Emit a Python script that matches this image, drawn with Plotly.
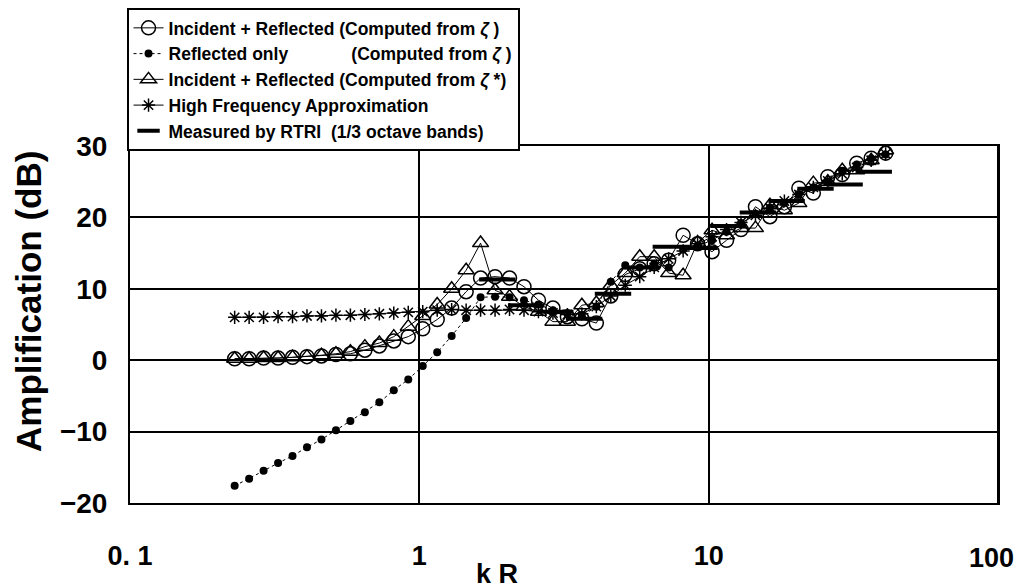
import numpy as np
import plotly.graph_objects as go

# kR sample points (log spaced, 1/20 decade)
kr = [0.23 * 10 ** (0.05 * i) for i in range(46)]

inc_ref_xi = [0.2, 0.2, 0.3, 0.3, 0.4, 0.5, 0.6, 0.8, 0.9, 1.4,
              2.0, 2.7, 3.3, 4.4, 5.7, 7.3, 9.6, 11.5, 11.7, 11.5,
              10.3, 8.4, 7.3, 6.1, 5.8, 5.2, 9.0, 12.0, 12.8, 13.5,
              14.0, 17.5, 16.3, 15.2, 16.8, 18.3, 21.5, 20.1, 21.5, 24.1,
              23.4, 25.7, 26.0, 27.6, 28.3, 29.0]

refl_only = [-17.6, -16.6, -15.5, -14.4, -13.4, -12.2, -11.1, -9.8, -8.5, -7.3,
             -5.9, -4.2, -2.7, -0.8, 1.1, 3.4, 5.9, 8.8, 8.9, 8.8,
             8.4, 7.8, 7.0, 6.5, 6.2, 7.5, 11.0, 13.3, 13.0, 13.5,
             13.0, 15.5, 16.0, 16.8, 18.0, 19.2, 20.5, 21.4, 22.0, 23.2,
             24.2, 25.0, 26.5, 27.4, 28.2, 28.8]

inc_ref_xistar = [0.2, 0.2, 0.3, 0.3, 0.4, 0.5, 0.7, 0.9, 1.2, 1.9,
                  2.4, 3.3, 4.7, 6.2, 7.8, 10.0, 12.6, 16.4, 9.8, 8.9,
                  7.5, 6.8, 5.4, 5.4, 7.7, 8.0, 10.5, 12.2, 14.5, 14.5,
                  12.2, 11.9, 16.5, 18.2, 17.5, 18.5, 18.5, 21.7, 21.0, 22.0,
                  24.8, 25.0, 26.6, 26.6, 28.0, 29.4]

hf_approx = [6.0, 6.0, 6.0, 6.1, 6.1, 6.2, 6.2, 6.3, 6.3, 6.4,
             6.5, 6.6, 6.7, 6.8, 7.0, 7.1, 7.0, 7.0, 7.0, 7.1,
             7.0, 6.8, 6.6, 6.4, 6.5, 7.5, 9.0, 10.5, 11.7, 13.0,
             14.2, 15.3, 16.3, 17.3, 18.3, 19.3, 20.3, 21.3, 22.3, 23.2,
             24.2, 25.1, 26.1, 27.0, 28.0, 28.9]

# measured 1/3 octave band centres and levels
band_kr = [1.86, 2.34, 2.95, 3.71, 4.67, 5.88, 7.4, 9.3, 11.7, 14.8, 18.6, 23.4, 29.5, 37.2]
band_db = [11.3, 7.7, 6.8, 5.8, 9.3, 13.0, 15.9, 15.7, 18.8, 20.7, 22.3, 24.0, 24.6, 26.4]

x_tickvals = [0.1, 1, 10, 100]
x_ticklabels = ["0. 1", "1", "10", "100"]
y_tickvals = [-20, -10, 0, 10, 20, 30]
y_ticklabels = ["−20", "−10", "0", "10", "20", "30"]

FONT = "Liberation Sans Narrow, Liberation Sans, Arial, sans-serif"
LFONT = "Liberation Sans, Arial, sans-serif"
NB = "\u00a0"

def b(s):
    return "<b>" + s + "</b>"

names = [
    b("Incident + Reflected (Computed from <i>ζ</i> )"),
    b("Reflected only" + NB * 13 + "(Computed from <i>ζ</i> )"),
    b("Incident + Reflected (Computed from <i>ζ</i> *)"),
    b("High Frequency Approximation"),
    b("Measured by RTRI" + NB * 2 + "(1/3 octave bands)"),
]

fig = go.Figure()
fig.add_trace(go.Scatter(
    x=kr, y=inc_ref_xi, name=names[0], mode="lines+markers",
    line=dict(color="black", width=1),
    marker=dict(symbol="circle-open", size=14, color="black", line=dict(width=1.5))))
fig.add_trace(go.Scatter(
    x=kr, y=refl_only, name=names[1], mode="lines+markers",
    line=dict(color="black", width=1, dash="dot"),
    marker=dict(symbol="circle", size=8, color="black")))
fig.add_trace(go.Scatter(
    x=kr, y=inc_ref_xistar, name=names[2], mode="lines+markers",
    line=dict(color="black", width=1),
    marker=dict(symbol="triangle-up-open", size=14, color="black", line=dict(width=1.5))))
fig.add_trace(go.Scatter(
    x=kr, y=hf_approx, name=names[3], mode="lines+markers",
    line=dict(color="black", width=1),
    marker=dict(symbol="asterisk-open", size=11, color="black", line=dict(width=1.5, color="black"))))
fig.add_trace(go.Scatter(
    x=band_kr, y=band_db, name=names[4], mode="markers",
    marker=dict(symbol="line-ew-open", size=26, color="black", line=dict(width=4, color="black"))))

# page body adds an 8px margin, so the figure is sized/placed to compensate
fig.update_layout(
    width=1015, height=580,
    margin=dict(l=122, r=25, t=138, b=85, autoexpand=False),
    paper_bgcolor="white", plot_bgcolor="white",
    font=dict(family=FONT, color="black"),
    showlegend=True,
    legend=dict(
        x=-0.004, y=1.3866, xanchor="left", yanchor="top",
        bordercolor="black", borderwidth=2, bgcolor="white",
        font=dict(family=LFONT, size=17.5, color="black"),
        tracegroupgap=0, itemwidth=30,
    ),
)
# the last x label sits at the right edge: draw it as an annotation so it is not culled
fig.update_xaxes(
    type="log", range=[-1, 2], automargin=False,
    tickvals=x_tickvals[:-1], ticktext=[b(t) for t in x_ticklabels[:-1]],
    tickfont=dict(family=FONT, size=27, color="black"),
    showgrid=True, gridcolor="black", gridwidth=1.5,
    showline=True, linecolor="black", linewidth=2, mirror=True,
    ticks="", ticklabelstandoff=28, zeroline=False,
)
fig.add_vline(x=x_tickvals[-1], line=dict(color="black", width=2))
fig.add_annotation(
    text=b(x_ticklabels[-1]), xref="x", yref="paper",
    x=np.log10(x_tickvals[-1]), y=-0.155, xanchor="center", yanchor="middle",
    xshift=-7, showarrow=False,
    font=dict(family=FONT, size=27, color="black"))
fig.update_yaxes(
    range=[-20, 30], tickvals=y_tickvals, automargin=False,
    ticktext=[b(t) for t in y_ticklabels],
    tickfont=dict(family=FONT, size=28, color="black"),
    showgrid=True, gridcolor="black", gridwidth=1.5,
    showline=True, linecolor="black", linewidth=2, mirror=True,
    ticks="", ticklabelstandoff=15, zeroline=False,
)
fig.add_annotation(
    text=b("Amplification (dB)"), xref="paper", yref="paper",
    x=-0.1175, y=0.563, xanchor="center", yanchor="middle",
    textangle=-90, showarrow=False,
    font=dict(family=FONT, size=35, color="black"))
fig.add_annotation(
    text=b("k R"), xref="paper", yref="paper",
    x=0.423, y=-0.2, yanchor="middle", showarrow=False,
    font=dict(family=FONT, size=27, color="black"))

fig.write_html("out.html")
